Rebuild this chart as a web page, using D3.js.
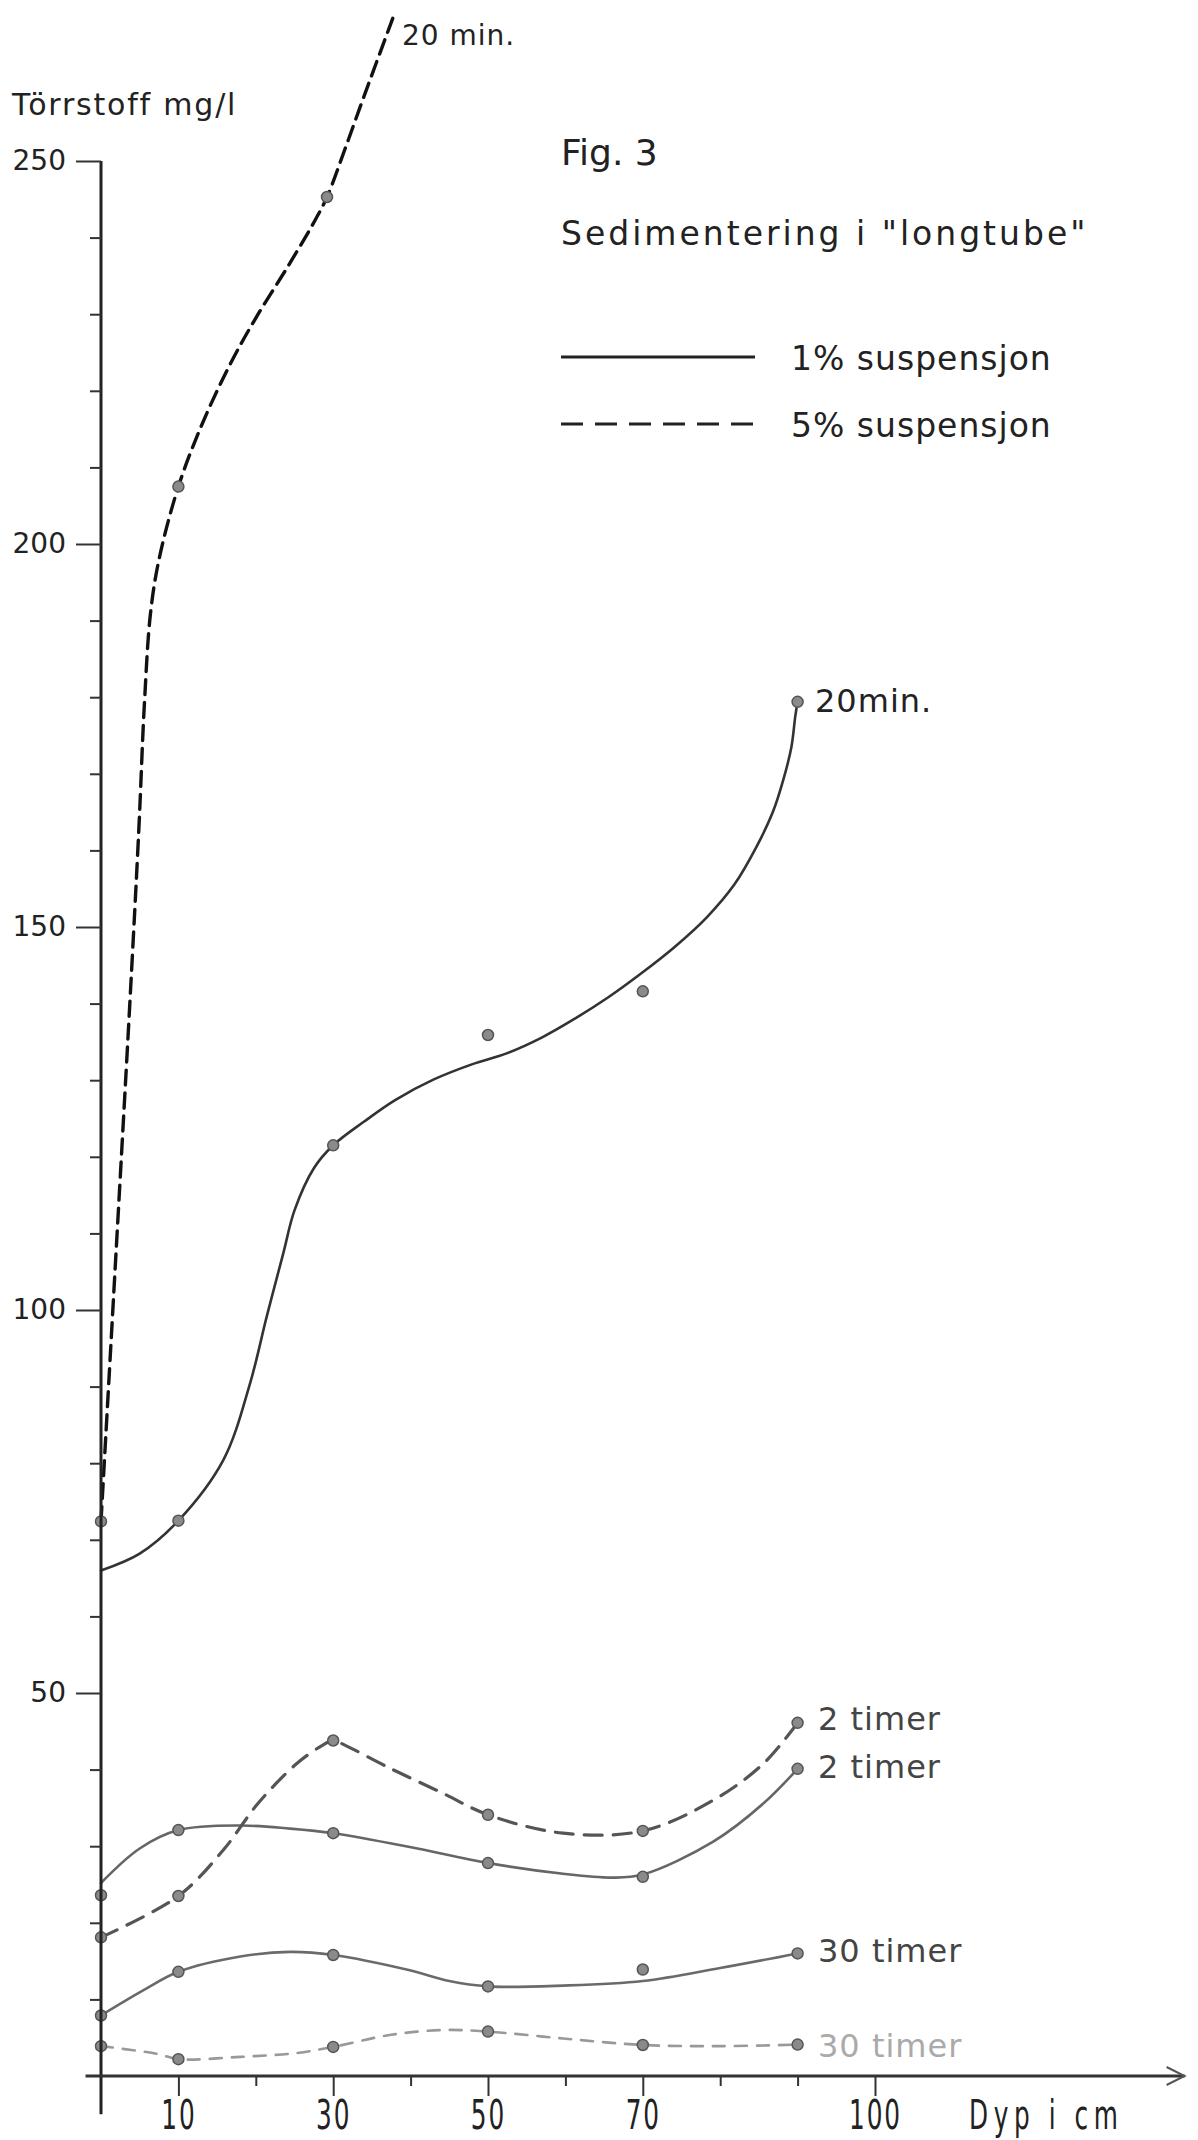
<!DOCTYPE html>
<html>
<head>
<meta charset="utf-8">
<script src="https://cdn.jsdelivr.net/npm/d3@7"></script>
<style>
body { margin: 0; background: #fff; }
svg { display: block; }
text { font-family: "DejaVu Sans", sans-serif; fill: #222; }
</style>
</head>
<body>
<div id="chart"></div>
<script>
var w = 1198;
var h = 2140;

// axis ticks
var xTicksMajor = [10, 30, 50, 70, 100];
var xTicksMinor = [20, 40, 60, 80, 90];
var yTicksMajor = [50, 100, 150, 200, 250];
var yTicksMinor = [10, 20, 30, 40, 60, 70, 80, 90, 110, 120, 130, 140, 160, 170, 180, 190, 210, 220, 230, 240];

// measured points (depth cm, mg/l)
var depths = [0, 10, 30, 50, 70, 90];
var val1pct2h = [23.6, 32.1, 31.7, 27.8, 26.0, 40.1];
var val5pct2h = [18.1, 23.5, 43.8, 34.1, 32.0, 46.1];
var val1pct30h = [7.9, 13.6, 15.8, 11.7, 13.9, 16.0];
var val5pct30h = [3.9, 2.2, 3.8, 5.8, 4.05, 4.1];
var pts1pct20min = [[10, 72.5], [30, 121.5], [50, 135.9], [70, 141.6], [90, 179.4]];
var pts5pct20min = [[0, 72.4], [10, 207.5], [29.2, 245.3]];

// hand drawn curves
var line1pct20min = [[0, 66], [5, 68.2], [10, 72.5], [15.8, 80.4], [19.25, 90.4], [21.4, 99.1], [23.55, 107.4], [25, 113], [27.5, 118.5], [30, 121.5], [34, 124.6], [38, 127.4], [43, 130.1], [48, 132.1], [52.4, 133.5], [57, 135.6], [61, 137.9], [65.5, 140.8], [69.6, 143.8], [74, 147.3], [78.3, 151.3], [81.8, 155.5], [84.7, 160.5], [86.8, 165], [88.15, 169.2], [89.2, 173.5], [89.7, 177.5], [90, 179.4]];
var line5pct20min = [[0, 72.4], [1.6, 101.3], [3.75, 140.5], [4.9, 163], [5.6, 179], [6.4, 191], [7.5, 198], [10, 207.5], [13, 215.5], [16.7, 223.5], [20, 229.5], [24, 236], [27.4, 241.8], [29.2, 245.3], [31.5, 251.5], [34, 258.5], [37.76, 268.8]];
var line1pct2h = [[0, 25.2], [5, 29.7], [10, 32.1], [18, 32.7], [24.4, 32.3], [30, 31.7], [39.9, 29.9], [50, 27.8], [59.7, 26.4], [66, 25.9], [70, 26.3], [79.1, 30.6], [85.6, 35.6], [90, 40.1]];
var line5pct2h = [[0, 18.1], [10, 23.5], [15.8, 29.5], [20.3, 35.6], [25.3, 40.8], [28.5, 43.1], [30, 43.8], [31.5, 43.2], [37.3, 40.2], [44.2, 36.9], [50, 34.1], [59.7, 31.7], [70, 32.0], [79.1, 36], [85.6, 40.8], [90, 46.1]];
var line1pct30h = [[0, 7.9], [5.5, 11.2], [10, 13.6], [18, 15.6], [24.4, 16.2], [30, 15.8], [39.9, 13.8], [45, 12.4], [50, 11.7], [59.7, 11.8], [70, 12.4], [80, 14.1], [90, 16.0]];
var line5pct30h = [[0, 3.9], [7.2, 2.9], [10, 2.2], [18, 2.5], [25.3, 3.0], [30, 3.8], [37.3, 5.35], [44.2, 6.0], [50, 5.8], [59.7, 4.9], [70, 4.05], [80, 3.9], [90, 4.1]];

function pairs(vals) {
	return depths.map(function (d, i) { return [d, vals[i]]; });
}

var xScale = d3.scaleLinear().domain([0, 100]).range([101, 875]);
var yScale = d3.scaleLinear().domain([0, 250]).range([2076, 161]);

var svg = d3.select('#chart')
	.append('svg')
	.attr('width', w)
	.attr('height', h);

var line = d3.line()
	.x(function (d) { return xScale(d[0]); })
	.y(function (d) { return yScale(d[1]); })
	.curve(d3.curveCatmullRom.alpha(0.5));

// curves
var series = [
	{ line: line1pct20min, pts: pts1pct20min, color: '#333', width: 2.6, dash: null },
	{ line: line5pct20min, pts: pts5pct20min, color: '#111', width: 3.4, dash: '15,8' },
	{ line: line1pct2h, pts: pairs(val1pct2h), color: '#666', width: 2.6, dash: null },
	{ line: line5pct2h, pts: pairs(val5pct2h), color: '#555', width: 3.2, dash: '18,11' },
	{ line: line1pct30h, pts: pairs(val1pct30h), color: '#6a6a6a', width: 2.6, dash: null },
	{ line: line5pct30h, pts: pairs(val5pct30h), color: '#999', width: 2.6, dash: '12,10' }
];

series.forEach(function (s) {
	svg.append('path')
		.attr('d', line(s.line))
		.attr('fill', 'none')
		.attr('stroke', s.color)
		.attr('stroke-width', s.width)
		.attr('stroke-dasharray', s.dash)
		.attr('stroke-linecap', 'round');
	svg.selectAll(null)
		.data(s.pts)
		.enter()
		.append('circle')
		.attr('cx', function (d) { return xScale(d[0]); })
		.attr('cy', function (d) { return yScale(d[1]); })
		.attr('r', 5.5)
		.attr('fill', '#8a8a8a')
		.attr('stroke', '#555')
		.attr('stroke-width', 1.5);
});

// y axis
svg.append('line')
	.attr('x1', xScale(0)).attr('x2', xScale(0))
	.attr('y1', yScale(250)).attr('y2', yScale(-5))
	.attr('stroke', '#222').attr('stroke-width', 3);

var yMinor = svg.append('g')
	.attr('transform', 'translate(' + xScale(0) + ',0)')
	.call(d3.axisLeft(yScale).tickValues(yTicksMinor).tickSize(11).tickFormat(''));
var yMajor = svg.append('g')
	.attr('transform', 'translate(' + xScale(0) + ',0)')
	.call(d3.axisLeft(yScale).tickValues(yTicksMajor).tickSize(25).tickPadding(10));

// x axis
svg.append('line')
	.attr('x1', xScale(-2)).attr('x2', xScale(140))
	.attr('y1', yScale(0)).attr('y2', yScale(0))
	.attr('stroke', '#333').attr('stroke-width', 3);
svg.append('path')
	.attr('d', 'M' + (xScale(140) - 18) + ',' + (yScale(0) - 9) + 'L' + xScale(140) + ',' + yScale(0) + 'L' + (xScale(140) - 18) + ',' + (yScale(0) + 9))
	.attr('fill', 'none').attr('stroke', '#555').attr('stroke-width', 2);

var xMinor = svg.append('g')
	.attr('transform', 'translate(0,' + yScale(0) + ')')
	.call(d3.axisBottom(xScale).tickValues(xTicksMinor).tickSize(10).tickFormat(''));
var xMajor = svg.append('g')
	.attr('transform', 'translate(0,' + yScale(0) + ')')
	.call(d3.axisBottom(xScale).tickValues(xTicksMajor).tickSize(20).tickPadding(5));

[yMinor, yMajor, xMinor, xMajor].forEach(function (g) {
	g.select('.domain').remove();
	g.selectAll('.tick line').attr('stroke', '#333').attr('stroke-width', 2);
});
yMajor.selectAll('.tick text')
	.attr('font-size', 28)
	.attr('font-family', 'DejaVu Sans')
	.attr('fill', '#222');
xMajor.selectAll('.tick text')
	.attr('font-size', 40)
	.attr('font-family', 'DejaVu Sans')
	.attr('letter-spacing', 3)
	.attr('fill', '#333')
	.attr('transform', 'scale(0.62,1)');

svg.append('text')
	.attr('transform', 'translate(969,2129) scale(0.62,1)')
	.attr('font-size', 40)
	.attr('letter-spacing', 9)
	.attr('fill', '#333')
	.text('Dyp i cm');

// titles
svg.append('text').attr('x', 12).attr('y', 115)
	.attr('font-size', 30).attr('letter-spacing', 1.8)
	.text('Törrstoff  mg/l');
svg.append('text').attr('x', 561).attr('y', 165)
	.attr('font-size', 36)
	.text('Fig. 3');
svg.append('text').attr('x', 561).attr('y', 245)
	.attr('font-size', 33).attr('letter-spacing', 3)
	.text('Sedimentering i "longtube"');

// legend
var legend = [
	{ label: '1% suspensjon', dash: null, y: 357 },
	{ label: '5% suspensjon', dash: '22,12', y: 424 }
];
legend.forEach(function (d) {
	svg.append('line')
		.attr('x1', 561).attr('x2', 755)
		.attr('y1', d.y).attr('y2', d.y)
		.attr('stroke', '#222').attr('stroke-width', 3)
		.attr('stroke-dasharray', d.dash);
	svg.append('text')
		.attr('x', 791).attr('y', d.y + 13)
		.attr('font-size', 33).attr('letter-spacing', 1)
		.text(d.label);
});

// curve labels
var curveLabels = [
	{ text: '20 min.', x: 402, y: 45, size: 28, color: '#222' },
	{ text: '20min.', x: 815, y: 712, size: 32, color: '#222' },
	{ text: '2 timer', x: 818, y: 1730, size: 32, color: '#444' },
	{ text: '2 timer', x: 818, y: 1778, size: 32, color: '#444' },
	{ text: '30 timer', x: 818, y: 1962, size: 32, color: '#444' },
	{ text: '30 timer', x: 818, y: 2057, size: 32, color: '#aaa' }
];
svg.selectAll('text.curve-label')
	.data(curveLabels)
	.enter()
	.append('text')
	.attr('class', 'curve-label')
	.attr('x', function (d) { return d.x; })
	.attr('y', function (d) { return d.y; })
	.attr('font-size', function (d) { return d.size; })
	.attr('letter-spacing', 1)
	.style('fill', function (d) { return d.color; })
	.text(function (d) { return d.text; });
</script>
</body>
</html>
